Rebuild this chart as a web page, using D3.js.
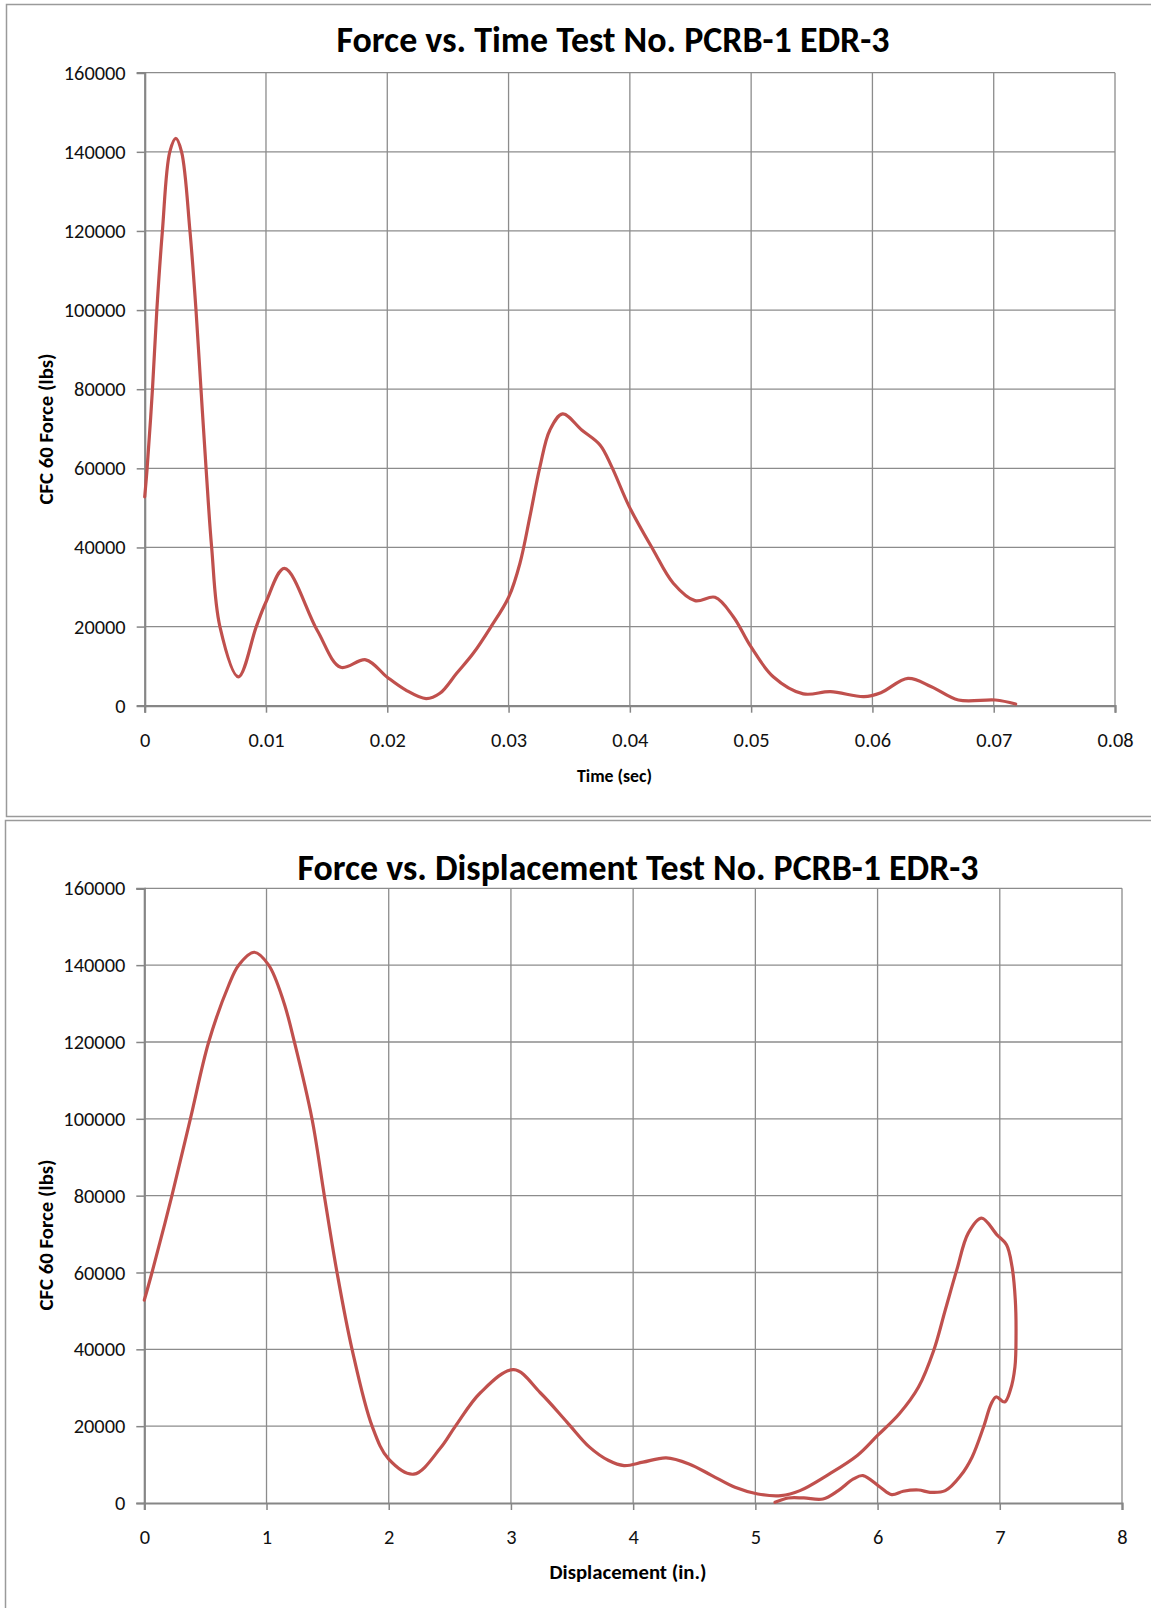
<!DOCTYPE html>
<html>
<head>
<meta charset="utf-8">
<script src="https://cdn.jsdelivr.net/npm/d3@7"></script>
<style>
  html, body { margin: 0; padding: 0; background: #fff; }
  svg { display: block; }
</style>
</head>
<body>
<svg id="chart" width="1151" height="1608"></svg>
<script>
// ---------- DATA ----------
const forceTicks = [0, 20000, 40000, 60000, 80000, 100000, 120000, 140000, 160000];
const forceTickLabels = ["0", "20000", "40000", "60000", "80000", "100000", "120000", "140000", "160000"];
const timeTicks = [0, 0.01, 0.02, 0.03, 0.04, 0.05, 0.06, 0.07, 0.08];
const timeTickLabels = ["0", "0.01", "0.02", "0.03", "0.04", "0.05", "0.06", "0.07", "0.08"];
const dispTicks = [0, 1, 2, 3, 4, 5, 6, 7, 8];
const dispTickLabels = ["0", "1", "2", "3", "4", "5", "6", "7", "8"];

const title1 = "Force vs. Time Test No. PCRB-1 EDR-3";
const title2 = "Force vs. Displacement Test No. PCRB-1 EDR-3";
const yTitle = "CFC 60 Force (lbs)";
const xTitle1 = "Time (sec)";
const xTitle2 = "Displacement (in.)";

// Force vs. time (sec, lbs)
const timeSec = [0, 0.0002, 0.00064, 0.001, 0.00146, 0.00207, 0.00257, 0.00304, 0.00373, 0.00423,
  0.00464, 0.00506, 0.00552, 0.0062, 0.00773, 0.0092, 0.01, 0.01152, 0.01423, 0.01616,
  0.01823, 0.02, 0.0215, 0.0232, 0.02434, 0.02572, 0.02709, 0.02847, 0.03003, 0.03094,
  0.03176, 0.03259, 0.03341, 0.03446, 0.03603, 0.03754, 0.0385, 0.03995, 0.04193, 0.04358,
  0.04537, 0.04702, 0.04853, 0.04998, 0.05182, 0.0543, 0.05654, 0.05931, 0.0607, 0.06293,
  0.06486, 0.06709, 0.07014, 0.07181];
const timeForce = [52800, 60000, 80000, 100000, 120000, 140000, 143400, 140000, 120000, 100000,
  80000, 60000, 40000, 20000, 7300, 20000, 26200, 34700, 19000, 9700,
  11600, 7200, 4000, 1800, 3130, 8190, 13250, 19570, 27560, 36000,
  47790, 60430, 69700, 73750, 69700, 65920, 60430, 50320, 39370, 30950,
  26550, 27400, 22500, 14920, 7330, 3000, 3540, 2280, 3300, 6920,
  4800, 1440, 1440, 430];

// Force vs. displacement (in., lbs) in path order
const dispIn = [0, 0.063, 0.226, 0.377, 0.527, 0.69, 0.772, 0.9, 1.018, 1.14,
  1.228, 1.372, 1.473, 1.577, 1.7, 1.864, 2.0, 2.205, 2.423, 2.546,
  2.75, 3.023, 3.24, 3.46, 3.643, 3.8, 3.925, 4.08, 4.27, 4.457,
  4.645, 4.833, 5.02, 5.21, 5.365, 5.584, 5.834, 6.0, 6.178, 6.335,
  6.46, 6.554, 6.648, 6.742, 6.851, 6.977, 7.055, 7.1, 7.127, 7.133,
  7.124, 7.086, 7.039, 6.97, 6.93, 6.867, 6.773, 6.68, 6.554, 6.429,
  6.335, 6.21, 6.116, 6.022, 5.881, 5.803, 5.678, 5.553, 5.396, 5.27,
  5.161];
const dispForce = [52800, 60000, 80000, 100000, 120000, 134700, 140000, 143350, 140000, 130500,
  120000, 100000, 80000, 60000, 40000, 20000, 11400, 7500, 14300, 20000,
  28700, 34700, 28700, 21000, 14540, 11050, 9750, 10620, 11750, 10180,
  7140, 4090, 2350, 1920, 3220, 7140, 12360, 17580, 23240, 30200,
  39780, 50230, 60670, 70250, 74160, 69810, 67200, 61540, 52840, 44130,
  35430, 29330, 26290, 27600, 25850, 19760, 11930, 7140, 3220, 2790,
  3390, 3050, 2180, 4090, 7140, 6270, 3220, 1040, 1310, 1310,
  170];

// ---------- DRAW ----------
const svg = d3.select("#chart");
const FONT = "Carlito, Calibri, Lato, 'Open Sans', sans-serif";
const LINE = "#c0504d";
const GRID = "#8c8c8c";

function fitWidth(sel, target) {
  const w = sel.node().getComputedTextLength();
  const fs = parseFloat(sel.attr("font-size"));
  if (w > 0) sel.attr("font-size", (fs * target / w).toFixed(2));
}

// measure tick font size so that "160000" is ~62px wide
const probe = svg.append("text").attr("font-family", FONT).attr("font-size", 18).text("160000");
const TICK_FS = 18 * 62 / probe.node().getComputedTextLength();
probe.remove();

// outer frames
svg.append("rect").attr("x", 6.5).attr("y", 4.5).attr("width", 1146).attr("height", 812)
  .attr("fill", "#fff").attr("stroke", "#9a9a9a").attr("stroke-width", 1.5);
svg.append("rect").attr("x", 5.5).attr("y", 820.5).attr("width", 1148).attr("height", 820)
  .attr("fill", "#fff").attr("stroke", "#9a9a9a").attr("stroke-width", 1.5);

function drawChart(cfg) {
  const x = d3.scaleLinear().domain([cfg.xTicks[0], cfg.xTicks[cfg.xTicks.length - 1]]).range([cfg.left, cfg.right]);
  const y = d3.scaleLinear().domain([0, 160000]).range([cfg.bottom, cfg.top]);
  const g = svg.append("g");

  // gridlines
  g.append("g").selectAll("line").data(forceTicks.slice(1)).join("line")
    .attr("x1", cfg.left).attr("x2", cfg.right)
    .attr("y1", d => y(d)).attr("y2", d => y(d))
    .attr("stroke", GRID).attr("stroke-width", 1.3);
  g.append("g").selectAll("line").data(cfg.xTicks.slice(1)).join("line")
    .attr("x1", d => x(d)).attr("x2", d => x(d))
    .attr("y1", cfg.top).attr("y2", cfg.bottom)
    .attr("stroke", GRID).attr("stroke-width", 1.3);

  // axes
  const yAxis = d3.axisLeft(y).tickValues(forceTicks)
    .tickFormat((d, i) => forceTickLabels[i]).tickSize(8).tickPadding(11);
  const ya = g.append("g").attr("transform", `translate(${cfg.left},0)`).call(yAxis);
  const xAxis = d3.axisBottom(x).tickValues(cfg.xTicks)
    .tickFormat((d, i) => cfg.xLabels[i]).tickSize(7).tickPadding(20);
  const xa = g.append("g").attr("transform", `translate(0,${cfg.bottom})`).call(xAxis);
  [ya, xa].forEach(a => {
    a.select(".domain").attr("stroke", "#868686").attr("stroke-width", 2.2);
    a.selectAll(".tick line").attr("stroke", "#868686").attr("stroke-width", 1.5);
    a.selectAll(".tick text").attr("font-family", FONT).attr("font-size", TICK_FS).attr("fill", "#111");
  });

  // series
  const line = d3.line().x((d, i) => x(cfg.xs[i])).y((d, i) => y(cfg.ys[i])).curve(cfg.curve);
  g.append("path").datum(cfg.xs).attr("d", line)
    .attr("fill", "none").attr("stroke", LINE).attr("stroke-width", 3.2)
    .attr("stroke-linejoin", "round").attr("stroke-linecap", "round");

  // titles
  const t = g.append("text").attr("x", cfg.titleX).attr("y", cfg.titleY)
    .attr("text-anchor", "middle").attr("font-family", FONT).attr("font-weight", "bold")
    .attr("font-size", 29).attr("fill", "#000").text(cfg.title);
  fitWidth(t, cfg.titleW);
  const xt = g.append("text").attr("x", cfg.xTitleX).attr("y", cfg.xTitleY)
    .attr("text-anchor", "middle").attr("font-family", FONT).attr("font-weight", "bold")
    .attr("font-size", 17).attr("fill", "#000").text(cfg.xTitle);
  fitWidth(xt, cfg.xTitleW);
  const yt = g.append("text").attr("transform", `translate(53,${cfg.yTitleY}) rotate(-90)`)
    .attr("text-anchor", "middle").attr("font-family", FONT).attr("font-weight", "bold")
    .attr("font-size", 17).attr("fill", "#000").text(yTitle);
  fitWidth(yt, 151);
}

drawChart({
  left: 144.7, right: 1115, top: 72.7, bottom: 705.7,
  xTicks: timeTicks, xLabels: timeTickLabels,
  xs: timeSec, ys: timeForce, curve: d3.curveCatmullRom.alpha(0.5),
  title: title1, titleX: 613, titleY: 52, titleW: 553,
  xTitle: xTitle1, xTitleX: 614.5, xTitleY: 782, xTitleW: 75,
  yTitleY: 429
});

drawChart({
  left: 144.3, right: 1122, top: 888.3, bottom: 1503,
  xTicks: dispTicks, xLabels: dispTickLabels,
  xs: dispIn, ys: dispForce, curve: d3.curveCatmullRom.alpha(0.5),
  title: title2, titleX: 638, titleY: 880, titleW: 681,
  xTitle: xTitle2, xTitleX: 628, xTitleY: 1579, xTitleW: 157,
  yTitleY: 1235
});
</script>
</body>
</html>
